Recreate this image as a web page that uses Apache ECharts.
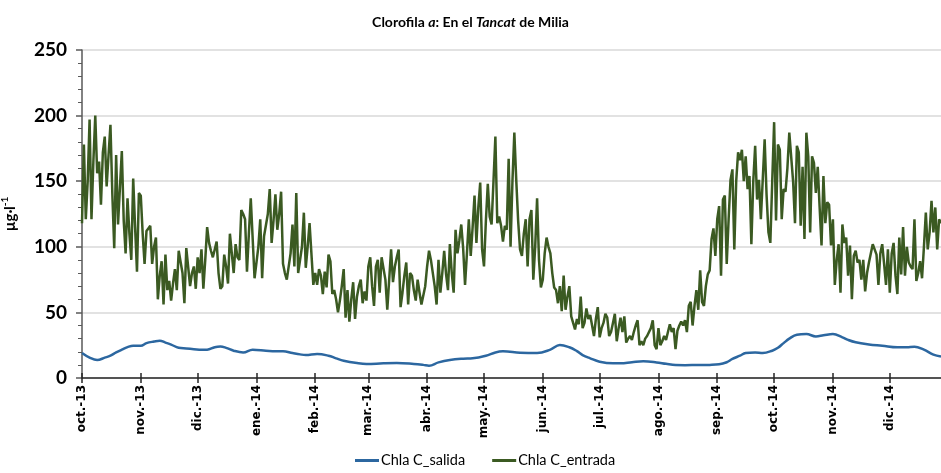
<!DOCTYPE html>
<html>
<head>
<meta charset="utf-8">
<script src="https://cdn.jsdelivr.net/npm/echarts@6/dist/echarts.min.js"></script>
<style>
  html, body { margin: 0; padding: 0; background: #fff; }
  #chart { width: 941px; height: 473px; }
</style>
</head>
<body>
<div id="chart"></div>
<script>
// month tick labels (first day of each month, starting 1 oct 2013)
const monthLabels = ['oct.-13', 'nov.-13', 'dic.-13', 'ene.-14', 'feb.-14', 'mar.-14', 'abr.-14',
  'may.-14', 'jun.-14', 'jul.-14', 'ago.-14', 'sep.-14', 'oct.-14', 'nov.-14', 'dic.-14']

// Chla C_entrada, one value per day (µg/l)
const entradaOct13 = [118, 178, 121, 150, 197, 121, 165, 200, 156, 165, 132, 172, 184, 146, 170, 193, 140, 99, 170, 117, 145, 173, 120, 95, 137, 110, 90, 152, 115, 81, 141]
const entradaNov13 = [139, 110, 87, 112, 114, 116, 87, 100, 107, 60, 78, 89, 56, 94, 67, 74, 59, 72, 83, 67, 97, 97, 80, 57, 99, 98, 70, 80, 85, 68]
const entradaDic13 = [92, 80, 98, 68, 90, 115, 103, 97, 92, 98, 104, 80, 68, 70, 94, 85, 72, 110, 95, 80, 102, 92, 90, 128, 125, 121, 81, 110, 137, 137, 76]
const entradaEne14 = [76, 100, 121, 76, 108, 108, 125, 144, 103, 120, 140, 113, 125, 142, 87, 80, 75, 75, 95, 117, 85, 141, 80, 79, 100, 126, 84, 100, 118, 118, 71]
const entradaFeb14 = [80, 71, 83, 78, 64, 81, 69, 94, 89, 64, 67, 60, 50, 59, 70, 83, 46, 67, 43, 60, 73, 45, 62, 70, 75, 57, 66, 59]
const entradaMar14 = [85, 92, 70, 55, 85, 90, 65, 92, 93, 75, 52, 75, 98, 73, 85, 92, 98, 54, 65, 78, 88, 56, 80, 78, 67, 59, 75, 65, 56, 56, 70]
const entradaAbr14 = [85, 97, 90, 89, 70, 56, 90, 65, 80, 97, 79, 67, 102, 80, 65, 113, 95, 105, 117, 99, 71, 95, 121, 93, 115, 139, 103, 130, 149, 98]
const entradaMay14 = [85, 120, 148, 123, 117, 150, 184, 118, 123, 116, 104, 116, 113, 167, 100, 150, 187, 151, 120, 98, 93, 110, 121, 85, 121, 128, 75, 100, 137, 90, 69]
const entradaJun14 = [75, 95, 107, 100, 95, 80, 69, 67, 57, 70, 51, 78, 52, 62, 70, 47, 42, 37, 45, 41, 62, 38, 42, 53, 45, 48, 40, 32, 45, 54]
const entradaJul14 = [31, 38, 42, 49, 46, 32, 35, 42, 49, 28, 38, 46, 35, 47, 27, 30, 32, 29, 35, 40, 44, 25, 28, 25, 30, 32, 33, 38, 44, 25, 22]
const entradaAgo14 = [38, 25, 28, 32, 29, 35, 41, 35, 38, 22, 36, 40, 43, 40, 44, 35, 55, 58, 40, 55, 67, 52, 82, 58, 55, 70, 79, 82, 106, 114, 93]
const entradaSep14 = [121, 131, 78, 136, 139, 87, 121, 151, 159, 98, 150, 172, 166, 174, 150, 169, 144, 154, 102, 150, 177, 136, 151, 121, 120, 182, 140, 111, 103, 150]
const entradaOct14 = [195, 120, 178, 174, 121, 144, 142, 160, 187, 186, 150, 118, 177, 172, 116, 161, 106, 187, 169, 111, 169, 164, 141, 161, 130, 101, 154, 118, 134, 132, 101]
const entradaNov14 = [121, 71, 90, 102, 65, 117, 103, 107, 78, 101, 60, 93, 97, 88, 90, 75, 90, 66, 80, 88, 89, 102, 98, 94, 71, 95, 102, 87, 71, 98]
const entradaDic14 = [65, 95, 103, 78, 64, 107, 79, 115, 78, 100, 88, 85, 83, 121, 74, 80, 89, 76, 100, 126, 98, 111, 135, 111, 130, 98, 121, 118]

// Chla C_salida, sampled days (days since 1 oct 2013) and values (µg/l)
const salidaDays = [0, 4, 8, 12, 15, 18, 21, 24, 27, 31, 34, 38, 41, 44, 47, 51, 55, 59, 63, 66, 70, 73, 76, 80, 85,
  90, 97, 102, 106, 111, 115, 118, 124, 130, 134, 138, 145, 150, 159, 166, 175, 180, 183, 188, 194, 201, 206,
  213, 218, 222, 231, 240, 247, 252, 257, 261, 264, 268, 273, 280, 284, 290, 296, 303, 308, 313, 318, 324, 331,
  336, 340, 343, 347, 350, 355, 359, 364, 367, 370, 373, 377, 382, 387, 391, 396, 401, 404, 408, 415, 422, 430,
  435, 439, 444, 449, 453]
const salidaValues = [19, 15.5, 13.7, 15.5, 17, 19.5, 21.6, 23.5, 24.6, 24.6, 26.6, 27.8, 28.4, 27, 25.5, 23, 22.5, 22, 21.5, 21.6, 23.5, 24, 23, 20.8, 19.5,
  21.6, 20.8, 20.3, 20.3, 19, 18, 17.5, 18.3, 17, 15, 13.2, 11.4, 10.7, 11.2, 11.4, 10.7, 10, 9.4, 11.9, 13.7, 14.7, 15,
  17, 19.5, 20.3, 19.3, 19, 21.6, 25.1, 23.4, 20.5, 17.5, 15, 12.4, 11.2, 11.2, 12, 12.7, 11.9, 10.8, 9.9, 9.8, 9.9, 10,
  10.4, 12, 14.5, 17, 19, 19.5, 19, 20.8, 23, 26.6, 30, 33, 33.5, 31.7, 32.5, 33.5, 31, 29, 27.2, 25.6, 24.6, 23.4,
  23.5, 23.9, 21.6, 17.8, 16.3]

const entrada = [].concat(entradaOct13, entradaNov13, entradaDic13, entradaEne14, entradaFeb14, entradaMar14,
  entradaAbr14, entradaMay14, entradaJun14, entradaJul14, entradaAgo14, entradaSep14, entradaOct14,
  entradaNov14, entradaDic14)
const lastDay = entrada.length - 1

// day index of the first of each month
const DAY = 86400000
const t0 = Date.UTC(2013, 9, 1)
const monthStarts = monthLabels.map((_, i) => Math.round((Date.UTC(2013, 9 + i, 1) - t0) / DAY))

const chart = echarts.init(document.getElementById('chart'))

const font = 'Lato'
const xCommon = {
  type: 'value',
  min: 0,
  max: lastDay,
  position: 'bottom',
  splitLine: { show: false }
}

chart.setOption({
  animation: false,
  title: {
    left: 'center',
    top: 10,
    text: '{b|Clorofila }{bi|a}{b|: En el }{bi|Tancat}{b| de Milia}',
    textStyle: {
      rich: {
        b: { fontFamily: font, fontSize: 14, fontWeight: 'bold', color: '#000' },
        bi: { fontFamily: font, fontSize: 14, fontWeight: 'bold', fontStyle: 'italic', color: '#000' }
      }
    }
  },
  legend: {
    bottom: 0,
    left: 350,
    icon: 'rect',
    itemWidth: 24,
    itemHeight: 3,
    itemGap: 27,
    data: ['Chla C_salida', 'Chla C_entrada'],
    textStyle: { fontFamily: font, fontSize: 14.5, color: '#000', padding: [0, 0, 0, -3] }
  },
  grid: { left: 82, right: 0, top: 50, bottom: 95, containLabel: false, outerBoundsMode: 'none' },
  xAxis: [
    Object.assign({}, xCommon, {
      axisLine: { show: true, lineStyle: { color: '#262626', width: 1.5 } },
      axisTick: { show: true, customValues: monthStarts, length: 5, lineStyle: { color: '#262626', width: 1.5 } },
      axisLabel: {
        customValues: monthStarts,
        rotate: 90,
        margin: 7,
        fontFamily: 'DejaVu Sans',
        fontWeight: 'bold',
        fontSize: 12,
        color: '#000',
        formatter: (v) => monthLabels[monthStarts.indexOf(Math.round(v))] || ''
      }
    }),
    Object.assign({}, xCommon, {
      axisLine: { show: false },
      axisTick: { show: true, inside: true, customValues: monthStarts, length: 5, lineStyle: { color: '#262626', width: 1.5 } },
      axisLabel: { show: false }
    })
  ],
  yAxis: {
    type: 'value',
    min: 0,
    max: 250,
    interval: 50,
    name: '{a|µg·l}{s|-1}',
    nameLocation: 'middle',
    nameGap: 62,
    nameRotate: 90,
    nameTextStyle: {
      rich: {
        a: { fontFamily: font, fontSize: 15, fontWeight: 'bold', color: '#000', lineHeight: 20 },
        s: { fontFamily: font, fontSize: 10, fontWeight: 'bold', color: '#000', lineHeight: 20, verticalAlign: 'top', padding: [0, 0, 8, 0] }
      }
    },
    axisLine: { show: true, lineStyle: { color: '#595959', width: 1.5 } },
    axisTick: { show: true, length: 6, lineStyle: { color: '#595959', width: 1.5 } },
    minorTick: { show: true, splitNumber: 5, length: 4, lineStyle: { color: '#595959', width: 1 } },
    axisLabel: { fontFamily: font, fontSize: 19, fontWeight: 'bold', color: '#000', margin: 15 },
    splitLine: { show: true, lineStyle: { color: '#d9d9d9', width: 1.5 } }
  },
  series: [
    {
      name: 'Chla C_entrada',
      type: 'line',
      color: '#3b5a22',
      symbol: 'none',
      lineStyle: { width: 2.5 },
      data: entrada.map((v, i) => [i, v]),
      z: 2
    },
    {
      name: 'Chla C_salida',
      type: 'line',
      color: '#2c67a0',
      symbol: 'none',
      smooth: 0.4,
      lineStyle: { width: 2.5 },
      data: salidaDays.map((d, i) => [d, salidaValues[i]]),
      z: 3
    }
  ]
})

window.addEventListener('resize', () => chart.resize())
</script>
</body>
</html>
